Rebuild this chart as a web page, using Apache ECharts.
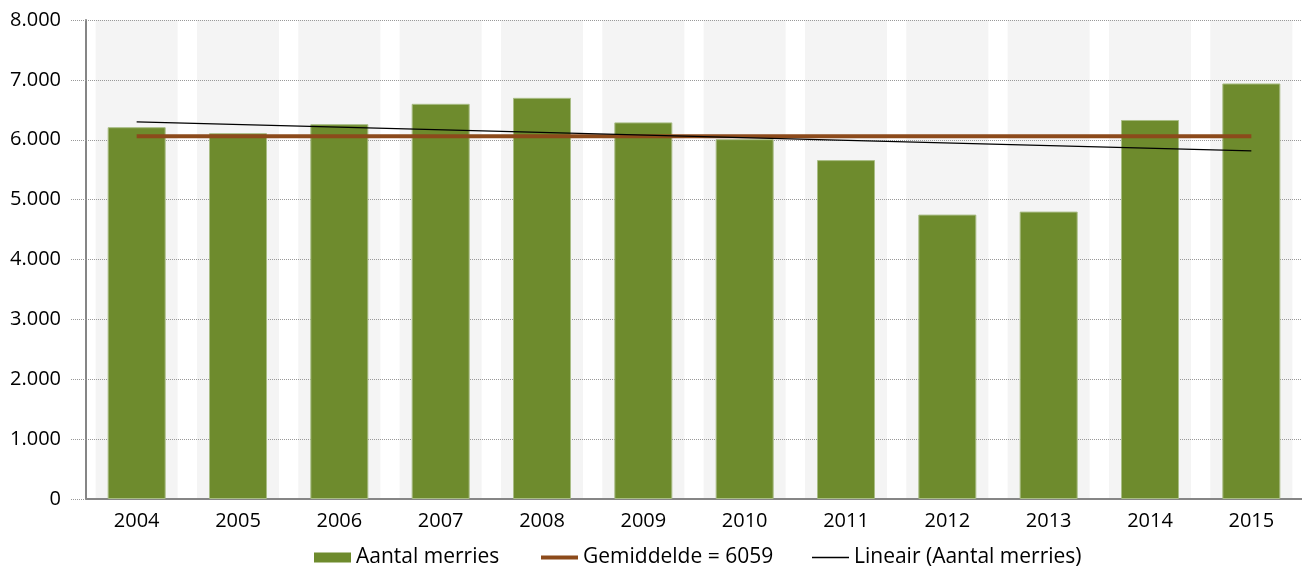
<!DOCTYPE html>
<html>
<head>
<meta charset="utf-8">
<script src="https://cdn.jsdelivr.net/npm/echarts@6/dist/echarts.min.js"></script>
<style>
html,body{margin:0;padding:0;background:#fff;}
#chart{width:1302px;height:570px;}
</style>
</head>
<body>
<div id="chart"></div>
<script>
const categories = ['2004','2005','2006','2007','2008','2009','2010','2011','2012','2013','2014','2015'];
const merries = [6210, 6110, 6260, 6600, 6700, 6290, 6010, 5660, 4750, 4800, 6330, 6940];
const gemiddelde = 6059;
const trendStart = 6300;
const trendEnd = 5815;
const yTicks = [0, 1000, 2000, 3000, 4000, 5000, 6000, 7000, 8000];

const FONT = '"Open Sans", "Noto Sans", sans-serif';
const last = categories.length - 1;
const NAME_BARS = 'Aantal merries';
const NAME_AVG = 'Gemiddelde = 6059';
const NAME_TREND = 'Lineair (Aantal merries)';

const legendText = {fontFamily: FONT, fontSize: 21, color: '#000'};
function legendAt(left, name, h) {
  return {
    left: left, top: 547, orient: 'horizontal', padding: 0,
    itemWidth: 37, itemHeight: h,
    selectedMode: false,
    textStyle: legendText,
    itemStyle: {borderWidth: 0},
    data: [{name: name, icon: 'rect', itemStyle: {borderWidth: 0}}]
  };
}

const chart = echarts.init(document.getElementById('chart'), null, {renderer: 'canvas'});
chart.setOption({
  animation: false,
  textStyle: {fontFamily: FONT},
  grid: {left: 86, right: 0, top: 20, bottom: 71, containLabel: false},
  legend: [
    legendAt(314, NAME_BARS, 10),
    legendAt(541, NAME_AVG, 4),
    legendAt(812, NAME_TREND, 1.5)
  ],
  xAxis: [{
    type: 'category',
    data: categories,
    boundaryGap: true,
    z: 1,
    axisLine: {show: true, lineStyle: {color: '#868686', width: 2}},
    axisTick: {show: false},
    axisLabel: {fontFamily: FONT, fontSize: 20, color: '#000', margin: 12},
    splitLine: {show: false}
  }, {
    type: 'category',
    data: categories,
    boundaryGap: true,
    show: false
  }],
  yAxis: {
    type: 'value',
    min: yTicks[0],
    max: yTicks[yTicks.length - 1],
    interval: 1000,
    z: 1,
    axisLine: {show: true, lineStyle: {color: '#868686', width: 2}},
    axisTick: {show: true, length: 16, lineStyle: {color: '#999', type: 'dotted', width: 1}},
    axisLabel: {
      fontFamily: FONT, fontSize: 20, color: '#000', margin: 25,
      formatter: v => v === 0 ? '0' : (v / 1000).toFixed(3)
    },
    splitLine: {show: true, lineStyle: {color: '#999', type: 'dotted', width: 1}}
  },
  series: [
    {
      name: 'bg',
      type: 'bar',
      xAxisIndex: 1,
      data: merries,
      barWidth: 82,
      silent: true,
      itemStyle: {color: 'rgba(0,0,0,0)'},
      showBackground: true,
      backgroundStyle: {color: '#f4f4f4'},
      z: 0
    },
    {
      name: NAME_BARS,
      type: 'bar',
      data: merries,
      barWidth: 58,
      itemStyle: {color: '#6e8b2d', borderColor: '#a9bd85', borderWidth: 1},
      z: 2
    },
    {
      name: NAME_AVG,
      type: 'line',
      data: [[0, gemiddelde], [last, gemiddelde]],
      symbol: 'none',
      lineStyle: {color: '#8c4a1b', width: 4},
      itemStyle: {color: '#8c4a1b'},
      z: 3
    },
    {
      name: NAME_TREND,
      type: 'line',
      data: [[0, trendStart], [last, trendEnd]],
      symbol: 'none',
      lineStyle: {color: '#000', width: 1.3},
      itemStyle: {color: '#000'},
      z: 4
    }
  ]
});
</script>
</body>
</html>
